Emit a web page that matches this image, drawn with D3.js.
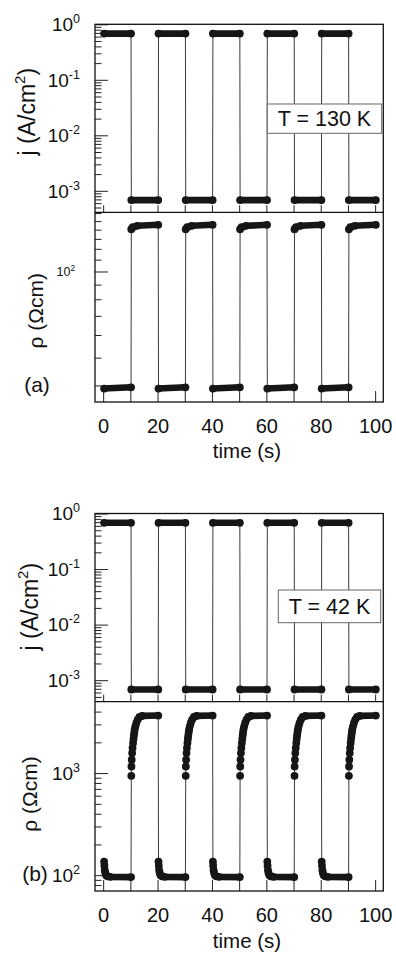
<!DOCTYPE html>
<html>
<head>
<meta charset="utf-8">
<script src="https://cdn.jsdelivr.net/npm/d3@7"></script>
<style>
  body { margin: 0; background: #fff; }
  svg text { font-family: Arial, "Liberation Sans", sans-serif; fill: #111; }
</style>
</head>
<body>
<svg id="chart" width="396" height="954"></svg>
<script>
// time axis
const timeTicks = [0, 10, 20, 30, 40, 50, 60, 70, 80, 90, 100];
const timeLabels = [0, 20, 40, 60, 80, 100];

// j axis (log)
const jMajor = [1, 0.1, 0.01, 0.001];
const jExp = ["0", "-1", "-2", "-3"];
const jMinor = [0.9, 0.8, 0.7, 0.6, 0.5, 0.4, 0.3, 0.2,
  0.09, 0.08, 0.07, 0.06, 0.05, 0.04, 0.03, 0.02,
  0.009, 0.008, 0.007, 0.006, 0.005, 0.004, 0.003, 0.002,
  0.0009, 0.0008, 0.0007, 0.0006, 0.0005];

// rho axis, panel (a)
const rhoAMajor = [100];
const rhoAExp = ["2"];
const rhoAMinor = [40, 50, 60, 70, 80, 90, 110, 120, 130, 140, 150, 160];

// rho axis, panel (b)
const rhoBMajor = [100, 1000];
const rhoBExp = ["2", "3"];
const rhoBMinor = [80, 90, 200, 300, 400, 500, 600, 700, 800, 900, 2000, 3000, 4000];

// (a) T = 130 K : [time (s), j (A/cm2)]
const jA = [
  [0.35, 0.68], [10.25, 0.68], [10.35, 6.8e-4], [20.25, 6.8e-4],
  [20.35, 0.68], [30.25, 0.68], [30.35, 6.8e-4], [40.25, 6.8e-4],
  [40.35, 0.68], [50.25, 0.68], [50.35, 6.8e-4], [60.25, 6.8e-4],
  [60.35, 0.68], [70.25, 0.68], [70.35, 6.8e-4], [80.25, 6.8e-4],
  [80.35, 0.68], [90.25, 0.68], [90.35, 6.8e-4], [100.25, 6.8e-4]
];
// (a) [time (s), rho (Ohm cm)]
const rhoA = [
  [0.35, 39.0], [10.25, 39.4],
  [10.35, 140.5], [10.9, 142.8], [12.5, 144.4], [20.25, 145.6],
  [20.35, 39.0], [30.25, 39.4],
  [30.35, 140.5], [30.9, 142.8], [32.5, 144.4], [40.25, 145.6],
  [40.35, 39.0], [50.25, 39.4],
  [50.35, 140.5], [50.9, 142.8], [52.5, 144.4], [60.25, 145.6],
  [60.35, 39.0], [70.25, 39.4],
  [70.35, 140.5], [70.9, 142.8], [72.5, 144.4], [80.25, 145.6],
  [80.35, 39.0], [90.25, 39.4],
  [90.35, 140.5], [90.9, 142.8], [92.5, 144.4], [100.25, 145.6]
];

// (b) T = 42 K
const jB = [
  [0.35, 0.68], [10.25, 0.68], [10.35, 6.8e-4], [20.25, 6.8e-4],
  [20.35, 0.68], [30.25, 0.68], [30.35, 6.8e-4], [40.25, 6.8e-4],
  [40.35, 0.68], [50.25, 0.68], [50.35, 6.8e-4], [60.25, 6.8e-4],
  [60.35, 0.68], [70.25, 0.68], [70.35, 6.8e-4], [80.25, 6.8e-4],
  [80.35, 0.68], [90.25, 0.68], [90.35, 6.8e-4], [100.25, 6.8e-4]
];
const rhoB = [
  [0.35, 136], [0.45, 124], [0.6, 112], [0.8, 105], [1.1, 100], [1.6, 97.5], [2.6, 96.3], [10.25, 95.8],
  [10.35, 940], [10.4, 1160], [10.5, 1350], [10.65, 1570], [10.8, 1760], [11.0, 1970], [11.15, 2160], [11.3, 2330],
  [11.45, 2510], [11.6, 2670], [11.85, 2870], [12.2, 3100], [12.7, 3340], [13.35, 3540], [14.3, 3630], [20.25, 3660],
  [20.35, 136], [20.45, 124], [20.6, 112], [20.8, 105], [21.1, 100], [21.6, 97.5], [22.6, 96.3], [30.25, 95.8],
  [30.35, 940], [30.4, 1160], [30.5, 1350], [30.65, 1570], [30.8, 1760], [31.0, 1970], [31.15, 2160], [31.3, 2330],
  [31.45, 2510], [31.6, 2670], [31.85, 2870], [32.2, 3100], [32.7, 3340], [33.35, 3540], [34.3, 3630], [40.25, 3660],
  [40.35, 136], [40.45, 124], [40.6, 112], [40.8, 105], [41.1, 100], [41.6, 97.5], [42.6, 96.3], [50.25, 95.8],
  [50.35, 940], [50.4, 1160], [50.5, 1350], [50.65, 1570], [50.8, 1760], [51.0, 1970], [51.15, 2160], [51.3, 2330],
  [51.45, 2510], [51.6, 2670], [51.85, 2870], [52.2, 3100], [52.7, 3340], [53.35, 3540], [54.3, 3630], [60.25, 3660],
  [60.35, 136], [60.45, 124], [60.6, 112], [60.8, 105], [61.1, 100], [61.6, 97.5], [62.6, 96.3], [70.25, 95.8],
  [70.35, 940], [70.4, 1160], [70.5, 1350], [70.65, 1570], [70.8, 1760], [71.0, 1970], [71.15, 2160], [71.3, 2330],
  [71.45, 2510], [71.6, 2670], [71.85, 2870], [72.2, 3100], [72.7, 3340], [73.35, 3540], [74.3, 3630], [80.25, 3660],
  [80.35, 136], [80.45, 124], [80.6, 112], [80.8, 105], [81.1, 100], [81.6, 97.5], [82.6, 96.3], [90.25, 95.8],
  [90.35, 940], [90.4, 1160], [90.5, 1350], [90.65, 1570], [90.8, 1760], [91.0, 1970], [91.15, 2160], [91.3, 2330],
  [91.45, 2510], [91.6, 2670], [91.85, 2870], [92.2, 3100], [92.7, 3340], [93.35, 3540], [94.3, 3630], [100.25, 3660]
];

const svg = d3.select("#chart");
const x = d3.scaleLinear().domain([-3, 103]).range([95, 383.3]);
const left = 95, right = 383.3;

const panels = [
  {
    top: 24.3, jBottom: 212.3, bottom: 402,
    j: jA, rho: rhoA, rhoDomain: [35, 161],
    rhoMajor: rhoAMajor, rhoExp: rhoAExp, rhoMinor: rhoAMinor, rhoLabelSize: 12.5, rhoLabelX: 75,
    temp: "T = 130 K", box: [267.3, 104, 114.4, 29.3],
    tag: "(a)", tagPos: [37, 392],
    jTitle: [35, 111.7], rhoTitle: [43, 310.8],
    tickBase: 433, timeBase: 458
  },
  {
    top: 513.5, jBottom: 701.7, bottom: 891,
    j: jB, rho: rhoB, rhoDomain: [70, 5000],
    rhoMajor: rhoBMajor, rhoExp: rhoBExp, rhoMinor: rhoBMinor, rhoLabelSize: 19, rhoLabelX: 80,
    temp: "T = 42 K", box: [278.3, 590, 102.4, 32.7],
    tag: "(b)", tagPos: [35, 881],
    jTitle: [38.3, 606.7], rhoTitle: [37, 794],
    tickBase: 923, timeBase: 948
  }
];

function plotSeries(g, data, y) {
  const line = d3.line().x(d => x(d[0])).y(d => y(d[1]));
  g.append("path").datum(data)
    .attr("d", line)
    .attr("fill", "none")
    .attr("stroke", "#3a3a3a")
    .attr("stroke-width", 1);

  // level stretches of the dense sampling look like a solid band of markers
  const runs = [];
  let run = [data[0]];
  for (let i = 1; i < data.length; i++) {
    if (Math.abs(y(data[i][1]) - y(data[i - 1][1])) < 3.5) run.push(data[i]);
    else { runs.push(run); run = [data[i]]; }
  }
  runs.push(run);
  g.selectAll(null).data(runs.filter(r => r.length > 1)).join("path")
    .attr("d", line)
    .attr("fill", "none")
    .attr("stroke", "#161616")
    .attr("stroke-width", 6.6)
    .attr("stroke-linecap", "round")
    .attr("stroke-linejoin", "round");

  g.selectAll(null).data(data).join("circle")
    .attr("cx", d => x(d[0]))
    .attr("cy", d => y(d[1]))
    .attr("r", 3.9)
    .attr("fill", "#161616");
}

function powLabels(g, y, values, exps, xEnd, size) {
  values.forEach((v, i) => {
    const t = g.append("text")
      .attr("x", xEnd)
      .attr("y", y(v) + size * 0.36)
      .attr("text-anchor", "end")
      .attr("font-size", size + "px");
    t.append("tspan").text("10");
    t.append("tspan")
      .attr("dy", -size * 0.42)
      .attr("font-size", (size * 0.66) + "px")
      .text(exps[i]);
  });
}

function yTicks(g, y, values, len) {
  g.append("g")
    .attr("transform", `translate(${left},0)`)
    .call(d3.axisLeft(y).tickValues(values).tickSizeInner(-len).tickSizeOuter(0).tickFormat(""))
    .call(a => a.select(".domain").remove())
    .call(a => a.selectAll("line").attr("stroke", "#222").attr("stroke-width", 1));
}

panels.forEach(p => {
  const g = svg.append("g");
  const yj = d3.scaleLog().domain([4.1e-4, 1]).range([p.jBottom, p.top]);
  const yr = d3.scaleLog().domain(p.rhoDomain).range([p.bottom, p.jBottom]);

  // y ticks
  yTicks(g, yj, jMinor, 6.5);
  yTicks(g, yj, jMajor, 13);
  yTicks(g, yr, p.rhoMinor, 6.5);
  yTicks(g, yr, p.rhoMajor, 13);
  powLabels(g, yj, jMajor, jExp, 80, 19);
  powLabels(g, yr, p.rhoMajor, p.rhoExp, p.rhoLabelX, p.rhoLabelSize);

  // x ticks (inward)
  g.append("g")
    .attr("transform", `translate(0,${p.jBottom})`)
    .call(d3.axisBottom(x).tickValues(timeTicks).tickSizeInner(-7).tickSizeOuter(0).tickFormat(""))
    .call(a => a.select(".domain").remove())
    .call(a => a.selectAll("line").attr("stroke", "#222"));
  g.append("g")
    .attr("transform", `translate(0,${p.bottom})`)
    .call(d3.axisBottom(x).tickValues(timeTicks).tickSizeInner(-11).tickSizeOuter(0).tickPadding(16.5)
      .tickFormat(d => timeLabels.includes(d) ? d : ""))
    .call(a => a.select(".domain").remove())
    .call(a => a.selectAll("line").attr("stroke", "#222"))
    .call(a => a.selectAll("text").attr("font-size", "20px").attr("fill", "#111")
      .attr("font-family", "Arial, 'Liberation Sans', sans-serif"));

  // data
  plotSeries(g, p.j, yj);
  plotSeries(g, p.rho, yr);

  // frame
  g.append("rect")
    .attr("x", left).attr("y", p.top)
    .attr("width", right - left).attr("height", p.bottom - p.top)
    .attr("fill", "none").attr("stroke", "#111").attr("stroke-width", 1.3);
  g.append("line")
    .attr("x1", left).attr("x2", right)
    .attr("y1", p.jBottom).attr("y2", p.jBottom)
    .attr("stroke", "#111").attr("stroke-width", 1.3);

  // temperature box
  g.append("rect")
    .attr("x", p.box[0]).attr("y", p.box[1])
    .attr("width", p.box[2]).attr("height", p.box[3])
    .attr("fill", "#fff").attr("stroke", "#666").attr("stroke-width", 1);
  g.append("text")
    .attr("x", p.box[0] + p.box[2] / 2)
    .attr("y", p.box[1] + p.box[3] / 2 + 7.6)
    .attr("text-anchor", "middle")
    .attr("font-size", "21.5px")
    .text(p.temp);

  // axis titles
  const jt = g.append("text")
    .attr("transform", `translate(${p.jTitle[0]},${p.jTitle[1]}) rotate(-90)`)
    .attr("text-anchor", "middle")
    .attr("font-size", "23px");
  jt.append("tspan").text("j (A/cm");
  jt.append("tspan").attr("dy", -10).attr("font-size", "15px").text("2");
  jt.append("tspan").attr("dy", 10).text(")");

  g.append("text")
    .attr("transform", `translate(${p.rhoTitle[0]},${p.rhoTitle[1]}) rotate(-90)`)
    .attr("text-anchor", "middle")
    .attr("font-size", "21px")
    .text("ρ (Ωcm)");

  g.append("text")
    .attr("x", p.tagPos[0]).attr("y", p.tagPos[1])
    .attr("text-anchor", "middle")
    .attr("font-size", "21px")
    .text(p.tag);

  g.append("text")
    .attr("x", 247).attr("y", p.timeBase)
    .attr("text-anchor", "middle")
    .attr("font-size", "20.5px")
    .text("time (s)");
});
</script>
</body>
</html>
